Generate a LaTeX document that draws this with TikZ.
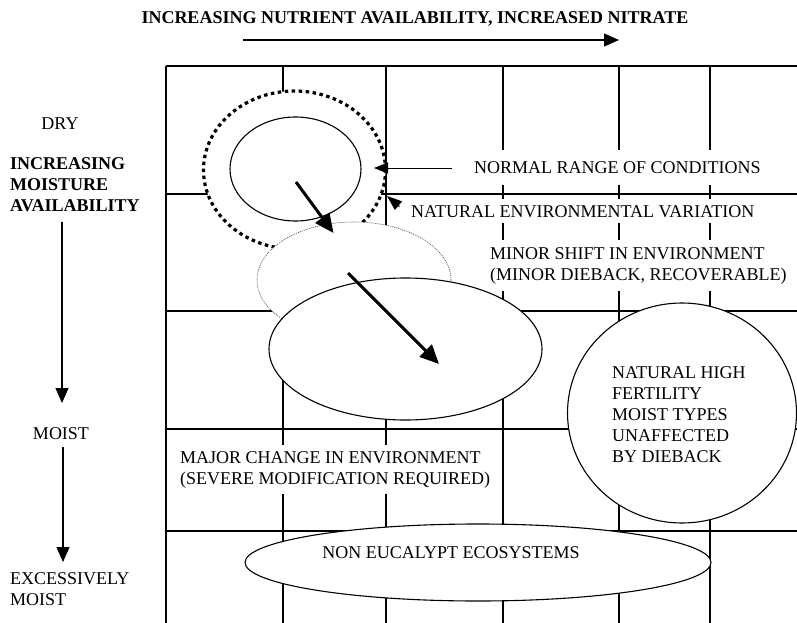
\documentclass[tikz,border=0pt]{standalone}
\usepackage{fontspec}
\setmainfont{Liberation Serif}
\usetikzlibrary{arrows.meta,shapes.geometric}
\begin{document}
\begin{tikzpicture}[x=1pt,y=-1pt,
  gridline/.style={line width=1.1pt},
  shp/.style={ellipse, draw, fill=white, line width=1.1pt, inner sep=0pt},
  txt/.style={font=\fontsize{18pt}{21pt}\selectfont, inner sep=0pt, align=left},
  btxt/.style={font=\fontsize{18pt}{21pt}\selectfont\bfseries, inner sep=0pt, align=left},
  wbox/.style={txt, fill=white, inner xsep=5pt, inner ysep=6pt},
  bigarr/.style={line width=3pt, -{Triangle[length=19pt,width=17pt]}},
  thinarr/.style={line width=1.1pt, -{Triangle[length=15pt,width=13pt]}}
]
\useasboundingbox (0,0) rectangle (797,623);
\fill[white] (0,0) rectangle (797,623);

% grid
\foreach \y in {66,194,311,429,531} \draw[gridline] (166,\y) -- (797,\y);
\foreach \x in {166,283,386,503,619,710} \draw[gridline] (\x,66) -- (\x,623);

% labels with white boxes over the grid
\node[wbox, anchor=base west, inner ysep=11.5pt] (normal) at (469,173) {NORMAL RANGE OF CONDITIONS};
\node[wbox, anchor=base west] (natvar) at (406,217) {NATURAL ENVIRONMENTAL VARIATION};
\node[wbox, anchor=north west, inner ysep=7pt] (minortxt) at (485,240.1) {MINOR SHIFT IN ENVIRONMENT\\(MINOR DIEBACK, RECOVERABLE)};
\node[wbox, anchor=north west] (majortxt) at (175,445.1) {MAJOR CHANGE IN ENVIRONMENT\\(SEVERE MODIFICATION REQUIRED)};

% shapes
\node[shp, line width=3.2pt, dash pattern=on 3.5pt off 3.5pt, minimum width=182pt, minimum height=158pt] (natring) at (294.5,170) {};
\node[shp, minimum width=131pt, minimum height=104pt] (normc) at (295.5,169) {};
\node[shp, draw=black!75, line width=0.6pt, dash pattern=on 1pt off 1pt, minimum width=194pt, minimum height=116pt] (minorc) at (354,280) {};
\node[shp, minimum width=273pt, minimum height=142pt] (majorc) at (405.5,349) {};
\node[shp, minimum width=229pt, minimum height=220pt] (fertc) at (682,413) {};
\node[shp, minimum width=466pt, minimum height=77pt] (noneucc) at (478,562.5) {};

% texts inside shapes
\node[txt, anchor=north west] (ferttxt) at (612,366.1) {NATURAL HIGH\\FERTILITY\\MOIST TYPES\\UNAFFECTED\\BY DIEBACK};
\node[txt, anchor=base] (noneuctxt) at (451,558) {NON EUCALYPT ECOSYSTEMS};

% left and top labels
\node[btxt, anchor=base] (title) at (415,24) {INCREASING NUTRIENT AVAILABILITY, INCREASED NITRATE};
\node[txt, anchor=base] (dry) at (60,129) {DRY};
\node[btxt, anchor=north west] (incr) at (10,157.8) {INCREASING\\MOISTURE\\AVAILABILITY};
\node[txt, anchor=base] (moist) at (61,439) {MOIST};
\node[txt, anchor=north west] (excess) at (10,572.1) {EXCESSIVELY\\MOIST};

% arrow end points
\coordinate (tA) at (243,40);   \coordinate (tB) at (619,40);
\coordinate (lA) at (62,222);   \coordinate (lB) at (62,403);
\coordinate (lC) at (63,447);   \coordinate (lD) at (63,562);
\coordinate (nA) at (452,168);  \coordinate (nB) at (374,168);
\coordinate (vA) at (399.5,206.5); \coordinate (vB) at (387,196);
\coordinate (sA) at (296,182);  \coordinate (sB) at (333.5,233);
\coordinate (mA) at (348,273);  \coordinate (mB) at (439,364);

% arrows
\draw[thinarr] (tA) -- (tB);
\draw[thinarr] (lA) -- (lB);
\draw[thinarr] (lC) -- (lD);
\draw[line width=1pt, -{Triangle[length=14pt,width=11pt]}] (nA) -- (nB);
\draw[line width=1pt, -{Triangle[length=15pt,width=11pt]}] (vA) -- (vB);
\draw[bigarr] (sA) -- (sB);
\draw[bigarr] (mA) -- (mB);
\end{tikzpicture}
\end{document}
